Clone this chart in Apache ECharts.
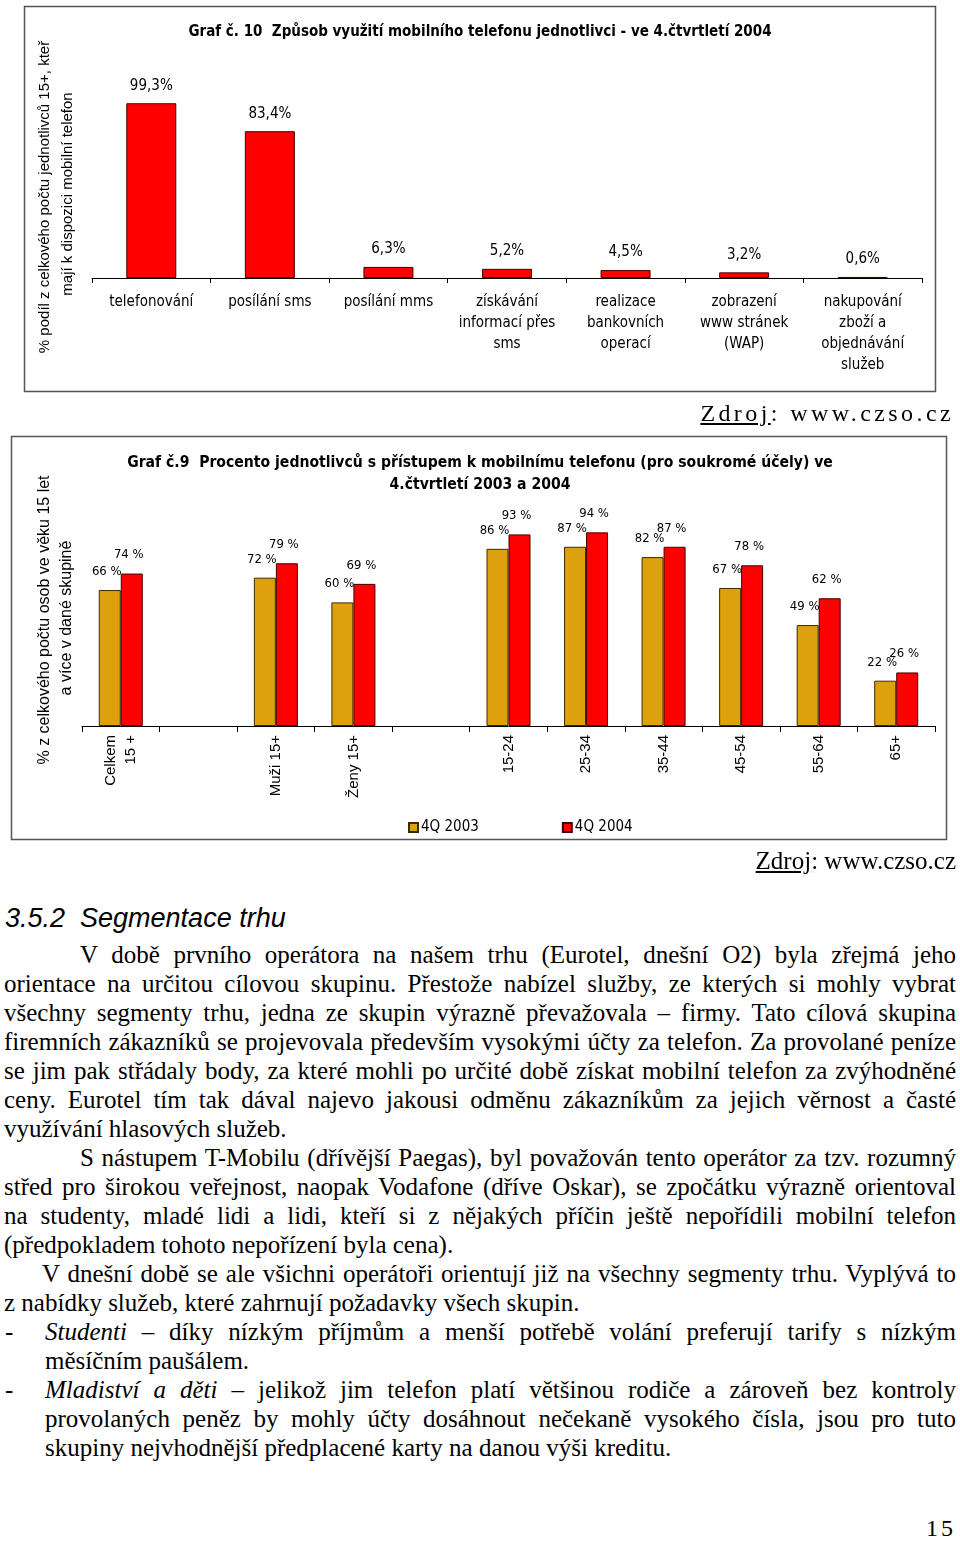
<!DOCTYPE html>
<html><head><meta charset="utf-8">
<script src="https://cdn.jsdelivr.net/npm/echarts@6/dist/echarts.min.js"></script>
<style>
html,body{margin:0;padding:0;background:#fff;}
body{width:960px;height:1541px;position:relative;overflow:hidden;}
#chart{position:absolute;left:0;top:0;width:960px;height:880px;}
.src{position:absolute;font-family:'Liberation Serif','Times New Roman',serif;color:#000;white-space:nowrap;}
.src u{text-decoration:underline;}
#h{position:absolute;left:5px;top:900px;font-family:'Liberation Sans',Arial,sans-serif;font-style:italic;font-size:27px;line-height:36px;}
#txt{position:absolute;left:4px;top:940px;width:952px;font-family:'Liberation Serif','Times New Roman',serif;font-size:25px;line-height:29px;color:#000;}
#txt div{white-space:nowrap;height:29px;}
#txt .j{text-align:justify;text-align-last:justify;}
#txt .i1{padding-left:76px;}
#txt .i2{padding-left:38px;}
#txt .b{padding-left:41px;position:relative;}
#txt .b .d{position:absolute;left:1px;top:0;}
#pg{position:absolute;left:926px;top:1515px;font-family:'Liberation Serif','Times New Roman',serif;font-size:24px;letter-spacing:3px;}
</style></head>
<body>
<div id="chart"></div>
<div class="src" style="right:6px;top:400px;font-size:24px;letter-spacing:3.4px;"><u>Zdroj</u>: www.czso.cz</div>
<div class="src" style="right:4px;top:847px;font-size:25px;"><u>Zdroj</u>: www.czso.cz</div>
<div id="h">3.5.2&nbsp; Segmentace trhu</div>
<div id="txt">
<div class="j i1">V době prvního operátora na našem trhu (Eurotel, dnešní O2) byla zřejmá jeho</div>
<div class="j">orientace na určitou cílovou skupinu. Přestože nabízel služby, ze kterých si mohly vybrat</div>
<div class="j">všechny segmenty trhu, jedna ze skupin výrazně převažovala – firmy. Tato cílová skupina</div>
<div class="j">firemních zákazníků se projevovala především vysokými účty za telefon. Za provolané peníze</div>
<div class="j">se jim pak střádaly body, za které mohli po určité době získat mobilní telefon za zvýhodněné</div>
<div class="j">ceny. Eurotel tím tak dával najevo jakousi odměnu zákazníkům za jejich věrnost a časté</div>
<div>využívání hlasových služeb.</div>
<div class="j i1">S nástupem T-Mobilu (dřívější Paegas), byl považován tento operátor za tzv. rozumný</div>
<div class="j">střed pro širokou veřejnost, naopak Vodafone (dříve Oskar), se zpočátku výrazně orientoval</div>
<div class="j">na studenty, mladé lidi a lidi, kteří si z nějakých příčin ještě nepořídili mobilní telefon</div>
<div>(předpokladem tohoto nepořízení byla cena).</div>
<div class="j i2">V dnešní době se ale všichni operátoři orientují již na všechny segmenty trhu. Vyplývá to</div>
<div>z nabídky služeb, které zahrnují požadavky všech skupin.</div>
<div class="j b"><span class="d">-</span><i>Studenti</i> – díky nízkým příjmům a menší potřebě volání preferují tarify s nízkým</div>
<div class="b">měsíčním paušálem.</div>
<div class="j b"><span class="d">-</span><i>Mladiství a děti</i> – jelikož jim telefon platí většinou rodiče a zároveň bez kontroly</div>
<div class="j b">provolaných peněz by mohly účty dosáhnout nečekaně vysokého čísla, jsou pro tuto</div>
<div class="b">skupiny nejvhodnější předplacené karty na danou výši kreditu.</div>
</div>
<div id="pg">15</div>
<script>
// ---- Data ----
const usageCategories = ['telefonování','posílání sms','posílání mms','získávání\ninformací přes\nsms','realizace\nbankovních\noperací','zobrazení\nwww stránek\n(WAP)','nakupování\nzboží a\nobjednávání\nslužeb'];
const usageValues = [99.3, 83.4, 6.3, 5.2, 4.5, 3.2, 0.6];
const groupCategories = ['Celkem\n15 +',' ','Muži 15+','Ženy 15+','  ','15-24','25-34','35-44','45-54','55-64','65+'];
const q2003 = [66, null, 72, 60, null, 86, 87, 82, 67, 49, 22];
const q2004 = [74, null, 79, 69, null, 93, 94, 87, 78, 62, 26];
const seriesNames = ['4Q 2003', '4Q 2004'];

const NARROW = "'Liberation Sans Narrow','Arial Narrow','DejaVu Sans Condensed',sans-serif";
const SANS = "'Liberation Sans',Arial,sans-serif";
const RED = '#FF0000', GOLD = '#DCA10C';
const titleStyle = {fontFamily:NARROW, fontSize:15, fontWeight:'bold', color:'#000'};
const titleStyle2 = {fontFamily:NARROW, fontSize:15.6, fontWeight:'bold', color:'#000'};

const chart = echarts.init(document.getElementById('chart'), null, {renderer:'canvas'});
chart.setOption({
  animation:false,
  backgroundColor:'#fff',
  title:[
    {text:'Graf č. 10  Způsob využití mobilního telefonu jednotlivci - ve 4.čtvrtletí 2004', left:'center', top:20, textStyle:titleStyle},
    {text:'Graf č.9  Procento jednotlivců s přístupem k mobilnímu telefonu (pro soukromé účely) ve', left:'center', top:450, textStyle:titleStyle2},
    {text:'4.čtvrtletí 2003 a 2004', left:'center', top:472, textStyle:titleStyle2}
  ],
  legend:{data:seriesNames, left:403, top:815, itemWidth:9, itemHeight:9, itemGap:83, icon:'rect',
    textStyle:{fontFamily:NARROW, fontSize:15, color:'#000', padding:[0,0,0,-2]}},
  graphic:[
    {type:'rect', shape:{x:24.5,y:6.5,width:911,height:385}, style:{fill:null, stroke:'#555', lineWidth:1.5}, silent:true},
    {type:'rect', shape:{x:11.5,y:436.5,width:935,height:403}, style:{fill:null, stroke:'#555', lineWidth:1.5}, silent:true},
    {type:'text', x:45, y:197, rotation:Math.PI/2, style:{text:'% podíl z celkového počtu jednotlivců 15+, kteř', fontFamily:SANS, fontSize:15, fill:'#000', align:'center', verticalAlign:'middle'}},
    {type:'text', x:68, y:194, rotation:Math.PI/2, style:{text:'mají k dispozici mobilní telefon', fontFamily:SANS, fontSize:15, fill:'#000', align:'center', verticalAlign:'middle'}},
    {type:'text', x:45, y:620, rotation:Math.PI/2, style:{text:'% z celkového počtu osob ve věku 15 let', fontFamily:SANS, fontSize:16, fill:'#000', align:'center', verticalAlign:'middle'}},
    {type:'text', x:67, y:618, rotation:Math.PI/2, style:{text:'a více v dané skupině', fontFamily:SANS, fontSize:16, fill:'#000', align:'center', verticalAlign:'middle'}}
  ],
  grid:[
    {left:92, right:38, top:102, height:176},
    {left:82, right:25, top:520, height:206}
  ],
  xAxis:[
    {type:'category', gridIndex:0, data:usageCategories,
     axisLine:{lineStyle:{color:'#000', width:1}}, axisTick:{show:true, length:5, lineStyle:{color:'#000'}},
     axisLabel:{interval:0, margin:14, color:'#000', fontFamily:NARROW, fontSize:15, lineHeight:21}},
    {type:'category', gridIndex:1, data:groupCategories,
     axisLine:{lineStyle:{color:'#000', width:1}}, axisTick:{show:true, length:6, lineStyle:{color:'#000'}},
     axisLabel:{interval:0, rotate:90, margin:9, color:'#000', fontFamily:SANS, fontSize:15, lineHeight:20}}
  ],
  yAxis:[
    {type:'value', gridIndex:0, min:0, max:100, show:false},
    {type:'value', gridIndex:1, min:0, max:100, show:false}
  ],
  series:[
    {type:'bar', xAxisIndex:0, yAxisIndex:0, data:usageValues, barWidth:50,
     itemStyle:{color:RED, borderColor:'#400', borderWidth:1},
     label:{show:true, position:'top', distance:10, color:'#000', fontFamily:NARROW, fontSize:15,
       formatter:p=>p.value.toFixed(1).replace('.',',')+'%'}},
    {type:'bar', name:seriesNames[0], xAxisIndex:1, yAxisIndex:1, data:q2003, barWidth:22, barGap:'0%',
     itemStyle:{color:GOLD, borderColor:'#3a2a00', borderWidth:1},
     label:{show:true, position:'top', distance:12, offset:[-3,0], color:'#000', fontFamily:NARROW, fontSize:13,
       formatter:p=>p.value+' %'}},
    {type:'bar', name:seriesNames[1], xAxisIndex:1, yAxisIndex:1, data:q2004, barWidth:22, barGap:'0%',
     itemStyle:{color:RED, borderColor:'#400', borderWidth:1},
     label:{show:true, position:'top', distance:12, offset:[-3,0], color:'#000', fontFamily:NARROW, fontSize:13,
       formatter:p=>p.value+' %'}}
  ]
});
</script>
</body></html>
